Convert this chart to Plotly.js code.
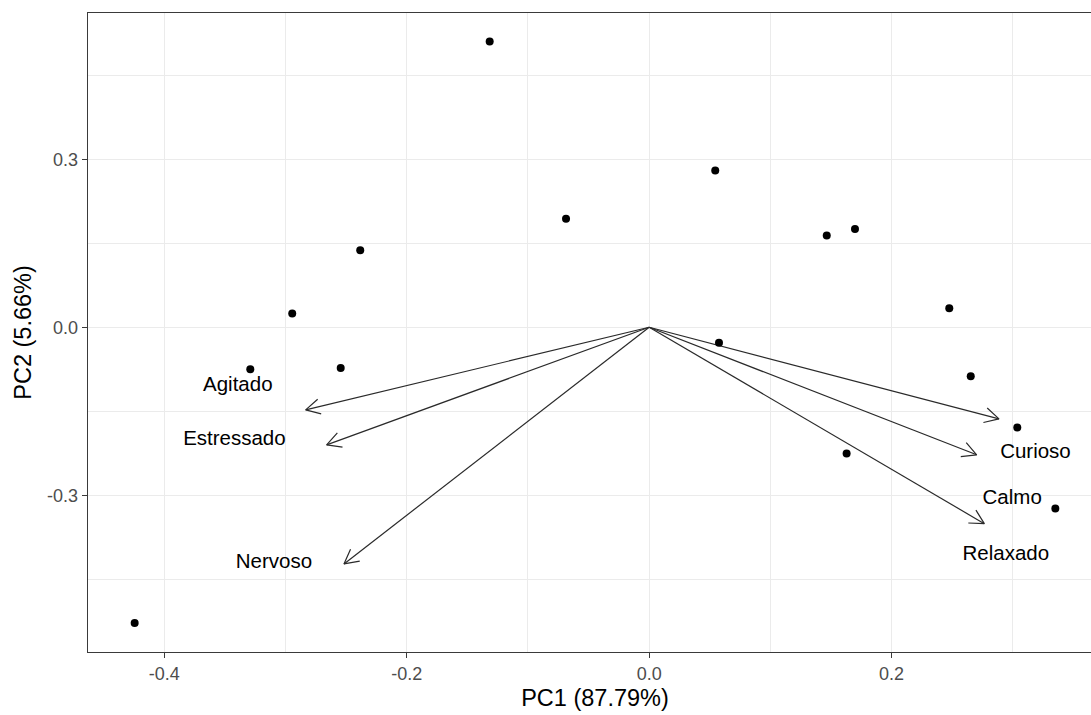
<!DOCTYPE html>
<html>
<head>
<meta charset="utf-8">
<script src="https://cdn.plot.ly/plotly-3.0.1.min.js"></script>
<style>
  html, body { margin: 0; padding: 0; background: #ffffff; overflow: hidden; }
  #chart { width: 1110px; height: 715px; }
</style>
</head>
<body>
<div id="chart"></div>
<script>
// Individual scores (PC1, PC2)
const scoreX = [-0.1316, -0.0686, 0.0545, 0.1465, 0.1698, -0.2384, -0.2945, 0.2476,
                -0.3291, -0.2545, 0.0576, 0.2653, 0.3037, 0.1629, 0.3351, -0.4245];
const scoreY = [0.5104, 0.1936, 0.2799, 0.1640, 0.1757, 0.1377, 0.0248, 0.0338,
                -0.0750, -0.0727, -0.0276, -0.0875, -0.1791, -0.2255, -0.3236, -0.5280];

// Variable loadings (arrow tips)
const varNames = ["Agitado", "Estressado", "Nervoso", "Curioso", "Calmo", "Relaxado"];
const loadX = [-0.2834, -0.2661, -0.2518, 0.2886, 0.2702, 0.2765];
const loadY = [-0.1476, -0.2100, -0.4227, -0.1636, -0.2278, -0.3508];

// Variable label positions
const labelX = [-0.3394, -0.3422, -0.3096, 0.3187, 0.2995, 0.2943];
const labelY = [-0.105, -0.201, -0.421, -0.2235, -0.3065, -0.4065];

// Axis tick values / labels
const xTicks = [-0.4, -0.2, 0.0, 0.2];
const xTickText = ["-0.4", "-0.2", "0.0", "0.2"];
const yTicks = [-0.3, 0.0, 0.3];
const yTickText = ["-0.3", "0.0", "0.3"];

const xTitle = "PC1 (87.79%)";
const yTitle = "PC2 (5.66%)";

// Layout geometry
const W = 1110, H = 715;
const margin = {l: 88, r: 8, t: 12.5, b: 62.5};
const xRange = [-0.4630, 0.3736];
const yRange = [-0.580, 0.5613];

const plotW = W - margin.l - margin.r;
const plotH = H - margin.t - margin.b;
const kx = plotW / (xRange[1] - xRange[0]);
const ky = plotH / (yRange[1] - yRange[0]);

// Build arrow paths (shaft + open arrowhead) in data space via pixel scales
const headLen = 16;
const headAng = 28 * Math.PI / 180;
const arrX = [], arrY = [];
for (let i = 0; i < loadX.length; i++) {
  const tx = loadX[i], ty = loadY[i];
  const px = tx * kx, py = ty * ky;
  const len = Math.hypot(px, py);
  const dx = -px / len, dy = -py / len;
  const arms = [headAng, -headAng].map(a => {
    const rx = dx * Math.cos(a) - dy * Math.sin(a);
    const ry = dx * Math.sin(a) + dy * Math.cos(a);
    return [(px + rx * headLen) / kx, (py + ry * headLen) / ky];
  });
  arrX.push(0, tx, null, arms[0][0], tx, arms[1][0], null);
  arrY.push(0, ty, null, arms[0][1], ty, arms[1][1], null);
}

const fontFam = "'Liberation Sans', Arial, Helvetica, sans-serif";

const traces = [
  {
    x: arrX, y: arrY, type: 'scatter', mode: 'lines',
    line: {color: '#2a2a2a', width: 1.2},
    connectgaps: false, hoverinfo: 'skip', showlegend: false
  },
  {
    x: scoreX, y: scoreY, type: 'scatter', mode: 'markers',
    marker: {color: '#000000', size: 8},
    showlegend: false
  },
  {
    x: labelX, y: labelY, type: 'scatter', mode: 'text',
    text: varNames, textposition: 'middle center',
    textfont: {family: fontFam, size: 20.5, color: '#000000'},
    showlegend: false, hoverinfo: 'skip'
  }
];

const axisCommon = {
  showline: true, linecolor: '#3a3a3a', linewidth: 1.3, mirror: true,
  ticks: 'outside', ticklen: 5, tickcolor: '#3a3a3a', tickwidth: 1.2,
  showgrid: true, gridcolor: '#ebebeb', gridwidth: 1,
  zeroline: false,
  tickfont: {family: fontFam, size: 18, color: '#4d4d4d'},
  tickmode: 'array'
};

const layout = {
  width: W, height: H,
  margin: margin,
  paper_bgcolor: '#ffffff', plot_bgcolor: '#ffffff',
  showlegend: false,
  xaxis: Object.assign({}, axisCommon, {
    range: xRange, tickvals: xTicks, ticktext: xTickText,
    minor: {tickmode: 'linear', tick0: 0, dtick: 0.1, showgrid: true, gridcolor: '#ebebeb', gridwidth: 1, ticks: ''},
    title: {text: xTitle, font: {family: fontFam, size: 23.5, color: '#000000'}, standoff: 6}
  }),
  yaxis: Object.assign({}, axisCommon, {
    range: yRange, tickvals: yTicks, ticktext: yTickText,
    minor: {tickmode: 'linear', tick0: 0, dtick: 0.15, showgrid: true, gridcolor: '#ebebeb', gridwidth: 1, ticks: ''},
    title: {text: yTitle, font: {family: fontFam, size: 23.5, color: '#000000'}, standoff: 8}
  })
};

Plotly.newPlot('chart', traces, layout, {displayModeBar: false, staticPlot: true});
</script>
</body>
</html>
